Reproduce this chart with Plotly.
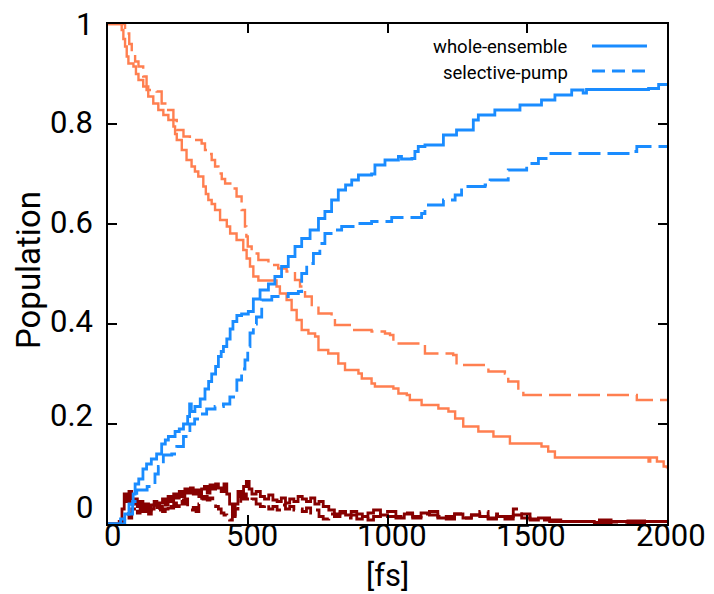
import plotly.graph_objects as go

# ---- population traces (time in fs) ----
# whole-ensemble, rising state (blue, solid)
t_ws_up = [0, 25, 45, 60, 75, 90, 97, 110, 125, 138,
           155, 174, 192, 205, 216, 240, 255, 270, 285, 292,
           298, 311, 330, 347, 360, 371, 385, 395, 405, 413,
           425, 437, 447, 461, 478, 502, 520, 544, 574, 597,
           621, 645, 669, 693, 723, 753, 776, 800, 824, 850,
           872, 896, 943, 955, 991, 1039, 1050, 1087, 1098, 1110,
           1134, 1200, 1247, 1307, 1325, 1384, 1474, 1551, 1599, 1659,
           1700, 1712, 1934, 1970, 2000]
p_ws_up = [0, 0, 0.01, 0.02, 0.04, 0.06, 0.08, 0.09, 0.11, 0.12,
           0.13, 0.14, 0.16, 0.168, 0.175, 0.185, 0.19, 0.2, 0.215, 0.24,
           0.225, 0.235, 0.25, 0.27, 0.285, 0.3, 0.315, 0.335, 0.345, 0.355,
           0.37, 0.39, 0.405, 0.417, 0.42, 0.425, 0.45, 0.468, 0.48, 0.495,
           0.515, 0.535, 0.555, 0.571, 0.588, 0.611, 0.625, 0.648, 0.668, 0.678,
           0.688, 0.698, 0.70, 0.718, 0.728, 0.735, 0.73, 0.731, 0.745, 0.755,
           0.758, 0.778, 0.788, 0.808, 0.818, 0.828, 0.838, 0.848, 0.858, 0.868,
           0.862, 0.869, 0.871, 0.879, 0.88]

# selective-pump, rising state (blue, dashed)
t_sp_up = [0, 43, 60, 73, 88, 103, 140, 156, 168, 180,
           198, 228, 246, 270, 293, 310, 329, 353, 383, 413,
           436, 461, 478, 490, 500, 508, 520, 531, 550, 586,
           621, 645, 681, 693, 711, 735, 758, 776, 812, 836,
           884, 943, 1015, 1122, 1134, 1200, 1242, 1265, 1349, 1367,
           1432, 1498, 1540, 1576, 1880, 1892, 2000]
p_sp_up = [0, 0, 0.01, 0.02, 0.045, 0.068, 0.075, 0.08, 0.1, 0.115,
           0.138, 0.14, 0.155, 0.175, 0.2, 0.21, 0.22, 0.23, 0.235, 0.24,
           0.254, 0.288, 0.31, 0.328, 0.355, 0.382, 0.40, 0.414, 0.448, 0.455,
           0.455, 0.461, 0.465, 0.501, 0.521, 0.541, 0.561, 0.581, 0.588, 0.595,
           0.601, 0.605, 0.613, 0.621, 0.638, 0.648, 0.658, 0.675, 0.678, 0.688,
           0.708, 0.721, 0.731, 0.741, 0.745, 0.755, 0.755]

# whole-ensemble, decaying state (coral, solid)
t_ws_dn = [0, 25, 49, 55, 61, 67, 73, 91, 100, 109,
           126, 144, 162, 180, 198, 216, 234, 240, 246, 264,
           281, 299, 311, 323, 341, 350, 359, 371, 383, 401,
           425, 437, 460, 484, 496, 508, 520, 538, 586, 603,
           615, 639, 657, 675, 693, 717, 741, 753, 788, 824,
           848, 896, 908, 943, 955, 1021, 1039, 1069, 1080, 1122,
           1182, 1218, 1242, 1271, 1325, 1379, 1438, 1551, 1575, 1599,
           1922, 1934, 1940, 1964, 1988, 2000]
p_ws_dn = [1.0, 1.0, 0.988, 0.97, 0.955, 0.935, 0.921, 0.915, 0.9, 0.888,
           0.875, 0.855, 0.841, 0.828, 0.818, 0.808, 0.795, 0.78, 0.768, 0.748,
           0.728, 0.715, 0.705, 0.695, 0.675, 0.66, 0.648, 0.64, 0.628, 0.608,
           0.595, 0.581, 0.568, 0.548, 0.531, 0.515, 0.495, 0.487, 0.487, 0.475,
           0.461, 0.448, 0.428, 0.408, 0.388, 0.381, 0.375, 0.348, 0.341, 0.321,
           0.308, 0.301, 0.291, 0.281, 0.275, 0.271, 0.261, 0.258, 0.248, 0.238,
           0.231, 0.225, 0.211, 0.195, 0.185, 0.175, 0.161, 0.155, 0.145, 0.133,
           0.133, 0.125, 0.133, 0.125, 0.115, 0.111]

# selective-pump, decaying state (coral, dashed)
t_sp_dn = [0, 31, 55, 61, 67, 76, 85, 97, 109, 126,
           138, 174, 192, 210, 234, 246, 270, 293, 335, 347,
           359, 371, 383, 395, 407, 419, 448, 460, 478, 490,
           495, 500, 514, 538, 574, 609, 639, 669, 687, 705,
           729, 753, 800, 812, 872, 943, 991, 1009, 1021, 1122,
           1134, 1235, 1247, 1349, 1361, 1420, 1432, 1468, 1486, 1874,
           1892, 2000]
p_sp_dn = [1.0, 1.0, 1.0, 0.99, 0.981, 0.96, 0.941, 0.925, 0.915, 0.895,
           0.868, 0.865, 0.841, 0.828, 0.808, 0.788, 0.775, 0.768, 0.761, 0.748,
           0.74, 0.728, 0.715, 0.701, 0.69, 0.681, 0.671, 0.655, 0.628, 0.595,
           0.575, 0.555, 0.541, 0.528, 0.518, 0.511, 0.505, 0.488, 0.475, 0.455,
           0.435, 0.421, 0.415, 0.398, 0.388, 0.385, 0.381, 0.378, 0.361, 0.358,
           0.341, 0.338, 0.318, 0.315, 0.305, 0.301, 0.285, 0.271, 0.258, 0.258,
           0.248, 0.248]

# third state, both ensembles (dark red), shared time grid
t_third = [0, 40, 50, 58, 66, 75, 85, 95, 105, 115,
           125, 135, 145, 155, 165, 175, 185, 195, 205, 215,
           225, 235, 245, 255, 265, 275, 285, 295, 305, 315,
           325, 335, 345, 355, 365, 375, 385, 395, 405, 415,
           425, 435, 445, 455, 465, 475, 485, 495, 505, 515,
           530, 545, 560, 575, 590, 605, 620, 635, 650, 665,
           680, 695, 710, 725, 740, 755, 770, 790, 810, 830,
           850, 870, 890, 910, 930, 950, 975, 1000, 1030, 1060,
           1090, 1120, 1150, 1180, 1210, 1240, 1270, 1300, 1330, 1360,
           1390, 1420, 1450, 1480, 1510, 1540, 1580, 1620, 1680, 1740,
           1800, 1860, 1920, 2000]
p_ws_third = [0, 0.005, 0.03, 0.06, 0.045, 0.065, 0.04, 0.05, 0.035, 0.045,
              0.03, 0.04, 0.028, 0.038, 0.045, 0.033, 0.042, 0.05, 0.038, 0.055,
              0.045, 0.06, 0.052, 0.065, 0.055, 0.07, 0.062, 0.072, 0.06, 0.068,
              0.055, 0.07, 0.075, 0.062, 0.078, 0.07, 0.08, 0.072, 0.065, 0.08,
              0.06, 0.04, 0.018, 0.04, 0.065, 0.055, 0.075, 0.085, 0.07, 0.06,
              0.065, 0.055, 0.05, 0.058, 0.048, 0.045, 0.052, 0.042, 0.05, 0.045,
              0.055, 0.05, 0.045, 0.052, 0.04, 0.045, 0.035, 0.028, 0.02, 0.025,
              0.018, 0.025, 0.02, 0.015, 0.022, 0.028, 0.018, 0.015, 0.012, 0.02,
              0.015, 0.022, 0.018, 0.012, 0.015, 0.02, 0.012, 0.018, 0.015, 0.01,
              0.015, 0.01, 0.018, 0.012, 0.008, 0.012, 0.008, 0.005, 0.005, 0.003,
              0.005, 0.003, 0.005, 0.003]
p_sp_third = [0, 0, 0.005, 0.01, 0.02, 0.012, 0.03, 0.035, 0.022, 0.03,
              0.025, 0.035, 0.02, 0.03, 0.038, 0.028, 0.035, 0.025, 0.03, 0.04,
              0.032, 0.042, 0.035, 0.048, 0.04, 0.05, 0.035, 0.028, 0.033, 0.025,
              0.04, 0.05, 0.055, 0.048, 0.052, 0.045, 0.035, 0.03, 0.022, 0.018,
              0.012, 0.008, 0.015, 0.03, 0.04, 0.05, 0.06, 0.05, 0.045, 0.05,
              0.04, 0.035, 0.04, 0.03, 0.035, 0.028, 0.038, 0.03, 0.035, 0.028,
              0.03, 0.025, 0.032, 0.022, 0.028, 0.015, 0.01, 0.02, 0.015, 0.022,
              0.012, 0.018, 0.01, 0.015, 0.008, 0.015, 0.02, 0.025, 0.015, 0.022,
              0.012, 0.02, 0.025, 0.015, 0.01, 0.02, 0.012, 0.018, 0.025, 0.012,
              0.02, 0.015, 0.03, 0.02, 0.01, 0.008, 0.005, 0.005, 0.005, 0.008,
              0.004, 0.006, 0.005, 0.004]

x_ticks = [0, 500, 1000, 1500, 2000]
x_ticktext = ["0", "500", "1000", "1500", "2000"]
y_ticks = [0, 0.2, 0.4, 0.6, 0.8, 1.0]
y_ticktext = ["0", "0.2", "0.4", "0.6", "0.8", "1"]
# vertical nudges (px, positive = up) for the y tick labels
y_label_lift = [17, 9, 3, 2, 2, 0]

legend_names = ["whole-ensemble", "selective-pump"]

BLUE = "#1a8cff"
CORAL = "#ff7f50"
DARKRED = "#870000"
DASH = "22px,7px"
FONT = "Roboto"
TICK_SIZE = 31

fig = go.Figure()

series = [
    (t_third, p_ws_third, DARKRED, "solid", 2.8),
    (t_third, p_sp_third, DARKRED, DASH, 2.8),
    (t_ws_dn, p_ws_dn, CORAL, "solid", 2.4),
    (t_sp_dn, p_sp_dn, CORAL, DASH, 2.4),
    (t_ws_up, p_ws_up, BLUE, "solid", 2.8),
    (t_sp_up, p_sp_up, BLUE, DASH, 2.8),
]
for tx, py, col, dash, w in series:
    fig.add_trace(go.Scatter(x=tx, y=py, mode="lines", line_shape="hv",
                             line=dict(color=col, width=w, dash=dash),
                             showlegend=False, hoverinfo="skip"))

axis_common = dict(showline=True, linecolor="black", linewidth=2, mirror="ticks",
                   ticks="inside", ticklen=9, tickwidth=1.5, tickcolor="black",
                   showgrid=False, zeroline=False, automargin=False,
                   showticklabels=False)

fig.update_xaxes(range=[0, 2000], tickvals=x_ticks, **axis_common)
fig.update_yaxes(range=[0, 1], tickvals=y_ticks, **axis_common)

tick_font = dict(family=FONT, size=TICK_SIZE, color="black")

# x tick labels, tucked up against the frame
for xv, txt in zip(x_ticks, x_ticktext):
    fig.add_annotation(x=xv, y=0, xref="x", yref="paper", text=txt, showarrow=False,
                       xanchor="center", yanchor="middle", xshift=4, yshift=-11,
                       font=tick_font)

# y tick labels, right-aligned against the frame
for yv, txt, lift in zip(y_ticks, y_ticktext, y_label_lift):
    fig.add_annotation(x=0, y=yv, xref="paper", yref="y", text=txt, showarrow=False,
                       xanchor="right", yanchor="middle", xshift=-13, yshift=lift,
                       font=tick_font)

# axis titles
fig.add_annotation(x=-0.143, y=0.508, xref="paper", yref="paper", text="Population",
                   textangle=-90, showarrow=False, xanchor="center", yanchor="middle",
                   font=dict(family=FONT, size=33, color="black"))
fig.add_annotation(x=0.5, y=-0.102, xref="paper", yref="paper", text="[fs]",
                   showarrow=False, xanchor="center", yanchor="middle",
                   font=dict(family=FONT, size=31, color="black"))

# key: label on the left, line sample on the right
key_y = [0.954, 0.902]
key_line_y = [0.956, 0.906]
key_dash = ["solid", "13px,7px"]
for name, ty, ly, d in zip(legend_names, key_y, key_line_y, key_dash):
    fig.add_annotation(x=0.8265, y=ty, xref="paper", yref="paper", text=name,
                       showarrow=False, xanchor="right", yanchor="middle",
                       font=dict(family=FONT, size=18.5, color="black"))
    fig.add_shape(type="line", xref="paper", yref="paper",
                  x0=0.8658, x1=0.9642, y0=ly, y1=ly,
                  line=dict(color=BLUE, width=2.8, dash=d))

fig.update_layout(width=714, height=594, margin=dict(l=108, r=47, t=24, b=70),
                  paper_bgcolor="white", plot_bgcolor="white",
                  font=dict(family=FONT, color="black"))

fig.write_html("out.html")
